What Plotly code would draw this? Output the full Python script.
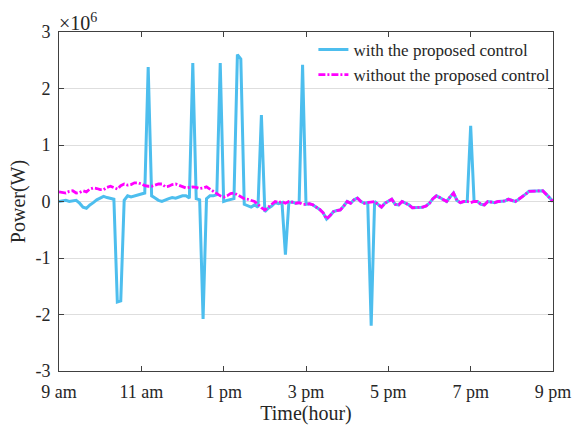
import pandas as pd
import plotly.graph_objects as go

# 5-minute samples from 9:00 to 21:00 (values in units of 10^6 W)
start_time = "2020-01-01 09:00"
end_time = "2020-01-01 21:00"
times = pd.date_range(start_time, end_time, freq="5min")

without_control = [
    0.17, 0.16, 0.15, 0.18, 0.19, 0.15, 0.16, 0.19, 0.17, 0.22, 0.24, 0.23,
    0.21, 0.21, 0.25, 0.27, 0.24, 0.22, 0.28, 0.31, 0.29, 0.30, 0.33, 0.33,
    0.31, 0.28, 0.27, 0.27, 0.29, 0.31, 0.31, 0.26, 0.27, 0.30, 0.31, 0.29,
    0.26, 0.24, 0.25, 0.26, 0.25, 0.23, 0.24, 0.26, 0.22, 0.18, 0.14, 0.10,
    0.08, 0.10, 0.14, 0.15, 0.12, 0.08, 0.05, 0.04, 0.02, 0.00, -0.05, -0.11,
    -0.15, -0.10, -0.06, 0.00, -0.02, 0.00, -0.03, 0.00, -0.01, -0.03, -0.02, -0.05,
    -0.05, -0.04, -0.06, -0.10, -0.14, -0.20, -0.31, -0.25, -0.18, -0.16, -0.15, -0.08,
    0.00, -0.03, 0.03, 0.06, 0.00, -0.03, -0.02, -0.01, 0.00, -0.05, -0.10, -0.03,
    0.00, 0.04, -0.05, -0.06, 0.00, -0.03, -0.06, -0.11, -0.11, -0.11, -0.10, -0.08,
    -0.03, 0.05, 0.10, 0.07, 0.04, 0.00, 0.08, 0.15, 0.02, -0.02, 0.00, 0.00,
    -0.02, 0.00, 0.00, -0.05, -0.06, 0.00, -0.01, -0.02, 0.00, 0.00, 0.01, 0.04,
    0.02, 0.00, 0.04, 0.08, 0.13, 0.18, 0.18, 0.19, 0.19, 0.19, 0.13, 0.06,
    0.00,
]

with_control = [
    0.00, 0.01, 0.02, 0.00, 0.01, 0.02, -0.03, -0.10, -0.12, -0.06, -0.02, 0.03,
    0.06, 0.09, 0.07, 0.05, 0.04, -1.78, -1.76, 0.02, 0.10, 0.08, 0.10, 0.12,
    0.14, 0.15, 2.38, 0.10, 0.06, 0.02, 0.00, 0.03, 0.05, 0.07, 0.06, 0.08,
    0.10, 0.10, 0.06, 2.45, 0.05, 0.03, -2.08, 0.05, 0.10, 0.10, 0.12, 2.45,
    0.00, 0.02, 0.04, 0.05, 2.60, 2.52, -0.05, -0.08, -0.10, -0.06, -0.10, 1.53,
    -0.18, -0.12, -0.08, -0.02, -0.04, -0.02, -0.94, -0.02, -0.01, -0.03, -0.02, 2.42,
    -0.05, -0.04, -0.06, -0.10, -0.14, -0.20, -0.31, -0.25, -0.18, -0.16, -0.15, -0.08,
    0.00, -0.03, 0.03, 0.06, 0.00, -0.03, -0.02, -2.20, 0.00, -0.05, -0.10, -0.03,
    0.00, 0.04, -0.05, -0.06, 0.00, -0.03, -0.06, -0.11, -0.11, -0.11, -0.10, -0.08,
    -0.03, 0.05, 0.10, 0.07, 0.04, 0.00, 0.08, 0.15, 0.02, -0.02, 0.00, 0.00,
    1.34, 0.00, 0.00, -0.05, -0.06, 0.00, -0.01, -0.02, 0.00, 0.00, 0.01, 0.04,
    0.02, 0.00, 0.04, 0.08, 0.13, 0.18, 0.18, 0.19, 0.19, 0.19, 0.13, 0.06,
    0.00,
]

scale = 1e6
x_tick_times = ["2020-01-01 09:00", "2020-01-01 11:00", "2020-01-01 13:00",
                "2020-01-01 15:00", "2020-01-01 17:00", "2020-01-01 19:00",
                "2020-01-01 21:00"]
x_tick_labels = ["9 am", "11 am", "1 pm", "3 pm", "5 pm", "7 pm", "9 pm"]
y_tick_values = [-3, -2, -1, 0, 1, 2, 3]
y_tick_labels = ["-3", "-2", "-1", "0", "1", "2", "3"]

FONT = "Liberation Serif, Times New Roman, serif"
TXT = "#262626"

fig = go.Figure()
fig.add_trace(go.Scatter(
    x=times, y=[v * scale for v in with_control], mode="lines",
    name="with the proposed control",
    line=dict(color="#4DBEEE", width=3),
))
fig.add_trace(go.Scatter(
    x=times, y=[v * scale for v in without_control], mode="lines",
    name="without the proposed control",
    line=dict(color="#FF00FF", width=2.8, dash="7px,2px,2px,2px"),
))

axis_common = dict(
    showline=True, linecolor="#404040", linewidth=1, mirror="ticks",
    ticks="inside", ticklen=5, tickcolor="#404040",
    tickfont=dict(family=FONT, size=18, color=TXT),
    zeroline=False, automargin=False,
)
fig.update_xaxes(
    **axis_common,
    range=[times[0], times[-1]],
    tickvals=x_tick_times, ticktext=x_tick_labels,
    showgrid=False, ticklabelstandoff=4,
    title=dict(text="Time(hour)", font=dict(family=FONT, size=20, color=TXT), standoff=0),
)
fig.update_yaxes(
    **axis_common,
    range=[-3 * scale, 3 * scale],
    tickvals=[v * scale for v in y_tick_values], ticktext=y_tick_labels,
    showgrid=True, gridcolor="#DEDEDE", gridwidth=1, ticklabelstandoff=4,
    title=dict(text="Power(W)", font=dict(family=FONT, size=20, color=TXT), standoff=4),
)

fig.add_annotation(
    xref="paper", yref="paper", x=0, y=1, xanchor="left", yanchor="bottom",
    text="×10<sup>6</sup>", showarrow=False,
    font=dict(family=FONT, size=20, color=TXT), xshift=-2, yshift=-4,
)

fig.update_layout(
    width=576, height=429,
    margin=dict(l=59, r=23, t=32, b=58),
    paper_bgcolor="white", plot_bgcolor="white",
    showlegend=True,
    legend=dict(
        x=0.515, y=1.0, xanchor="left", yanchor="top",
        bgcolor="rgba(255,255,255,0)", borderwidth=0,
        font=dict(family=FONT, size=17, color=TXT),
        tracegroupgap=0, itemwidth=30,
    ),
)

fig.write_html("out.html")
